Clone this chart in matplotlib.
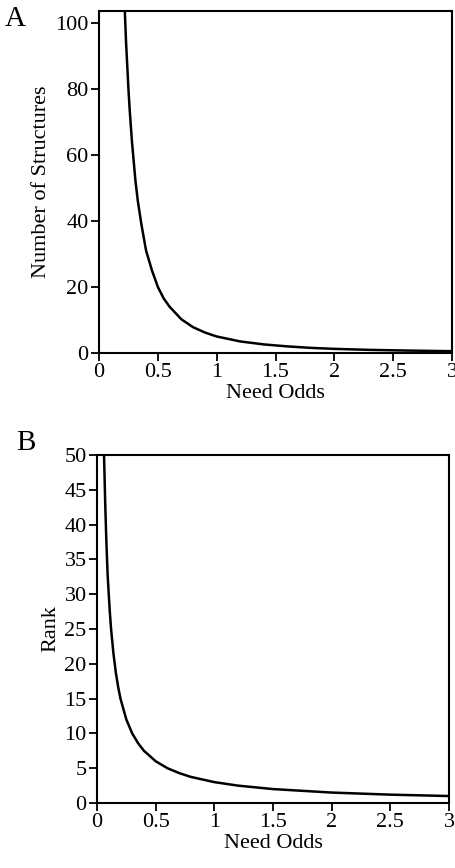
import matplotlib
matplotlib.use("Agg")
import matplotlib.pyplot as plt

plt.rcParams['font.family'] = ['Liberation Serif', 'DejaVu Serif']

# Panel A: Number of Structures vs Need Odds
need_odds_a = [0.22, 0.23, 0.24, 0.25, 0.26, 0.27, 0.28, 0.29, 0.31, 0.33, 0.36,
               0.40, 0.45, 0.50, 0.55, 0.60, 0.70, 0.80, 0.90, 1.00, 1.20, 1.40,
               1.60, 1.80, 2.00, 2.30, 2.60, 3.00]
structures_a = [103, 94, 87, 80, 74, 69, 64, 60, 52, 46, 39,
                31, 25, 20, 16.5, 14, 10.2, 7.8, 6.2, 5.0, 3.5, 2.6,
                2.0, 1.55, 1.25, 0.95, 0.75, 0.55]

# Panel B: Rank vs Need Odds
need_odds_b = [0.06, 0.07, 0.08, 0.09, 0.10, 0.11, 0.12, 0.14, 0.16, 0.18, 0.20,
               0.25, 0.30, 0.35, 0.40, 0.50, 0.60, 0.70, 0.80, 1.00, 1.20, 1.50,
               2.00, 2.50, 3.00]
rank_b = [50, 43, 37.5, 33, 30, 27.3, 25, 21.5, 18.8, 16.7, 15,
          12, 10, 8.6, 7.5, 6.0, 5.0, 4.3, 3.75, 3.0, 2.5, 2.0,
          1.5, 1.2, 1.0]

x_ticks = [0, 0.5, 1, 1.5, 2, 2.5, 3]
x_ticklabels = ['0', '0.5', '1', '1.5', '2', '2.5', '3']
a_yticks = [0, 20, 40, 60, 80, 100]
b_yticks = [0, 5, 10, 15, 20, 25, 30, 35, 40, 45, 50]

W, H = 455, 868
fig = plt.figure(figsize=(W / 100, H / 100), dpi=100)

FS = 16

def style(ax):
    for s in ax.spines.values():
        s.set_linewidth(1.5)
    ax.tick_params(axis='both', direction='out', length=6, width=1.3,
                   labelsize=FS, top=False, right=False, pad=1.5)

axA = fig.add_axes([99 / W, 1 - 353 / H, 353 / W, 342 / H])
axA.plot(need_odds_a, structures_a, color='black', lw=1.8)
axA.set_xlim(0, 3)
axA.set_ylim(0, 103.5)
axA.set_xticks(x_ticks)
axA.set_xticklabels(x_ticklabels)
axA.set_yticks(a_yticks)
axA.set_xlabel('Need Odds', fontsize=FS, labelpad=1)
axA.set_ylabel('Number of Structures', fontsize=FS, labelpad=3)
style(axA)
fig.text(5 / W, 1 - 19 / H, 'A', fontsize=21, va='center', ha='left')

axB = fig.add_axes([97 / W, 1 - 803 / H, 352 / W, 348 / H])
axB.plot(need_odds_b, rank_b, color='black', lw=1.8)
axB.set_xlim(0, 3)
axB.set_ylim(0, 50)
axB.set_xticks(x_ticks)
axB.set_xticklabels(x_ticklabels)
axB.set_yticks(b_yticks)
axB.set_xlabel('Need Odds', fontsize=FS, labelpad=1)
axB.set_ylabel('Rank', fontsize=FS, labelpad=3)
style(axB)
fig.text(16 / W, 1 - 443 / H, 'B', fontsize=21, va='center', ha='left')

fig.savefig('out.png', dpi=100, facecolor='white')
